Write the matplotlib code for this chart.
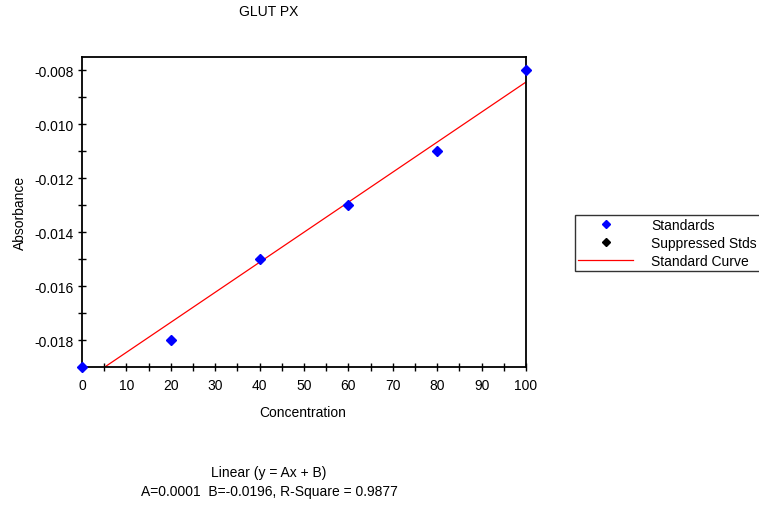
import numpy as np
import matplotlib
matplotlib.use("Agg")
import matplotlib.pyplot as plt
from matplotlib.lines import Line2D
from matplotlib.ticker import MultipleLocator, FormatStrFormatter

plt.rcParams['font.family'] = ['Liberation Sans', 'DejaVu Sans']

# Standards: concentration vs absorbance
concentration = [0, 20, 40, 60, 80, 100]
absorbance = [-0.019, -0.018, -0.015, -0.013, -0.011, -0.008]
suppressed_conc = []
suppressed_abs = []

x = np.array(concentration, dtype=float)
y = np.array(absorbance, dtype=float)
slope, intercept = np.polyfit(x, y, 1)
pred = slope * x + intercept
r2 = 1 - np.sum((y - pred) ** 2) / np.sum((y - y.mean()) ** 2)

fig = plt.figure(figsize=(7.59, 5.06), dpi=100)
ax = fig.add_axes([82 / 759, 1 - 368 / 506, (526 - 82) / 759, (368 - 58) / 506])

xs = np.linspace(0, 100, 200)
ax.plot(xs, slope * xs + intercept, color='#ff0000', lw=0.9)
ax.plot(x, y, linestyle='none', marker='D', color='#0000ff', markersize=5, clip_on=False, zorder=5)
if suppressed_conc:
    ax.plot(suppressed_conc, suppressed_abs, linestyle='none', marker='D', color='black', markersize=5)

ax.set_xlim(0, 100)
ax.set_ylim(-0.019, -0.0075)
ax.xaxis.set_major_locator(MultipleLocator(10))
ax.xaxis.set_minor_locator(MultipleLocator(5))
ax.yaxis.set_major_locator(MultipleLocator(0.002))
ax.yaxis.set_minor_locator(MultipleLocator(0.001))
ax.yaxis.set_major_formatter(FormatStrFormatter('%.3f'))
ax.tick_params(which='both', direction='inout', length=6, width=1, labelsize=10, colors='black')
ax.tick_params(axis='x', pad=5)
ax.tick_params(axis='y', pad=3)
for s in ax.spines.values():
    s.set_linewidth(1.3)

fig.text(269 / 759, 1 - 12 / 506, 'GLUT PX', ha='center', va='center', fontsize=10)
fig.text(20 / 759, 1 - 213 / 506, 'Absorbance', rotation=90, ha='center', va='center', fontsize=10)
fig.text(303 / 759, 1 - 413 / 506, 'Concentration', ha='center', va='center', fontsize=10)
fig.text(269 / 759, 1 - 473 / 506, 'Linear (y = Ax + B)', ha='center', va='center', fontsize=10)
fig.text(269 / 759, 1 - 492 / 506,
         f'A={slope:.4f}  B={intercept:.4f}, R-Square = {r2:.4f}',
         ha='center', va='center', fontsize=10)

handles = [
    Line2D([], [], linestyle='none', marker='D', color='#0000ff', markersize=4.5),
    Line2D([], [], linestyle='none', marker='D', color='black', markersize=4.5),
    Line2D([], [], color='#ff0000', lw=0.9),
]
leg = fig.legend(handles, ['Standards', 'Suppressed Stds', 'Standard Curve'],
                 loc='upper left', bbox_to_anchor=(575 / 759, 1 - 216 / 506),
                 frameon=True, fancybox=False, edgecolor='black', fontsize=10,
                 handlelength=4.0, handletextpad=1.3, borderpad=0.2,
                 labelspacing=0.3, borderaxespad=0)
leg.get_frame().set_linewidth(1.0)

fig.savefig('out.png', dpi=100)
